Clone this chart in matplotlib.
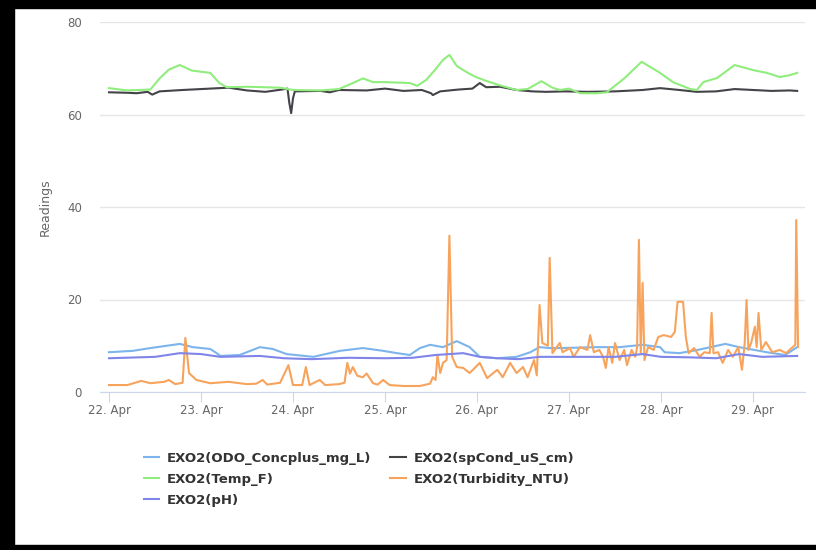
import matplotlib
matplotlib.use('Agg')
from matplotlib import pyplot as plt
from matplotlib.patches import Rectangle

# x values are days of April (22.0 = 22 Apr 00:00)
tick_days = [22, 23, 24, 25, 26, 27, 28, 29]
tick_labels = ['22. Apr', '23. Apr', '24. Apr', '25. Apr', '26. Apr', '27. Apr', '28. Apr', '29. Apr']

odo_t = [22.0, 22.26, 22.45, 22.77, 22.91, 23.1, 23.17, 23.21, 23.42, 23.64, 23.78, 23.93, 24.22,
         24.51, 24.76, 24.98, 25.13, 25.27, 25.38, 25.49, 25.63, 25.78, 25.92, 26.03, 26.22, 26.43,
         26.58, 26.68, 26.79, 26.9, 27.12, 27.3, 27.55, 27.8, 27.99, 28.04, 28.2, 28.4, 28.7, 28.85,
         29.15, 29.35, 29.48]
odo_v = [8.6, 8.9, 9.5, 10.4, 9.7, 9.3, 8.4, 7.8, 8.0, 9.7, 9.3, 8.2, 7.6,
         8.9, 9.5, 8.9, 8.4, 8.0, 9.5, 10.2, 9.7, 11.0, 9.7, 7.6, 7.3, 7.6,
         8.6, 9.7, 9.5, 9.5, 9.6, 9.7, 9.7, 10.2, 9.7, 8.6, 8.4, 9.1, 10.4, 9.7,
         8.6, 8.0, 9.7]

cond_t = [22.0, 22.2, 22.3, 22.42, 22.47, 22.55, 22.8, 23.0, 23.1, 23.3, 23.5, 23.7, 23.88, 23.94,
          23.96, 23.98, 24.0, 24.02, 24.3, 24.4, 24.5, 24.8, 25.0, 25.2, 25.4, 25.5, 25.52, 25.6,
          25.8, 25.95, 26.03, 26.1, 26.25, 26.43, 26.6, 26.75, 26.95, 27.2, 27.5, 27.8, 27.99, 28.2,
          28.39, 28.6, 28.8, 29.0, 29.2, 29.4, 29.48]
cond_v = [64.8, 64.7, 64.6, 64.9, 64.3, 65.0, 65.3, 65.5, 65.6, 65.8, 65.2, 64.9, 65.4, 65.6,
          62.5, 60.3, 63.5, 65.0, 65.1, 64.8, 65.3, 65.2, 65.6, 65.1, 65.3, 64.6, 64.2, 65.0,
          65.4, 65.6, 66.8, 65.9, 66.0, 65.3, 65.0, 64.9, 65.0, 64.9, 65.0, 65.3, 65.7, 65.3,
          64.9, 65.0, 65.5, 65.3, 65.1, 65.2, 65.1]

temp_t = [22.0, 22.2, 22.45, 22.55, 22.65, 22.77, 22.9, 23.1, 23.2, 23.28, 23.5, 23.86, 24.0, 24.3,
          24.5, 24.65, 24.76, 24.87, 25.0, 25.27, 25.35, 25.45, 25.55, 25.63, 25.70, 25.78, 25.85,
          25.92, 26.0, 26.11, 26.25, 26.43, 26.55, 26.70, 26.82, 26.9, 27.0, 27.12, 27.3, 27.41,
          27.6, 27.79, 27.99, 28.13, 28.32, 28.39, 28.46, 28.61, 28.80, 29.0, 29.15, 29.29, 29.40, 29.48]
temp_v = [65.7, 65.2, 65.4, 67.8, 69.7, 70.7, 69.5, 69.0, 66.8, 65.9, 66.0, 65.8, 65.3, 65.2,
          65.5, 66.8, 67.8, 67.0, 67.0, 66.8, 66.2, 67.5, 69.8, 71.8, 72.9, 70.5, 69.6,
          68.8, 68.0, 67.2, 66.3, 65.3, 65.5, 67.2, 65.8, 65.3, 65.6, 64.6, 64.6, 64.8,
          67.8, 71.4, 69.0, 67.0, 65.5, 65.3, 67.0, 67.9, 70.7, 69.6, 69.0, 68.1, 68.5, 69.0]

turb_t = [22.0, 22.2, 22.35, 22.45, 22.6, 22.65, 22.72, 22.80, 22.83, 22.87, 22.95, 23.1, 23.3, 23.5,
          23.6, 23.67, 23.72, 23.86, 23.95, 24.0, 24.1, 24.14, 24.18, 24.29, 24.35, 24.5, 24.56,
          24.59, 24.62, 24.65, 24.70, 24.76, 24.8, 24.87, 24.92, 24.98, 25.05, 25.2, 25.38, 25.49,
          25.52, 25.55, 25.57, 25.60, 25.63, 25.67, 25.70, 25.73, 25.78, 25.85, 25.92, 26.03, 26.11,
          26.22, 26.28, 26.36, 26.43, 26.50, 26.55, 26.62, 26.65, 26.68, 26.71, 26.77, 26.79, 26.82,
          26.90, 26.93, 27.01, 27.05, 27.12, 27.2, 27.23, 27.27, 27.33, 27.37, 27.40, 27.43, 27.47,
          27.50, 27.55, 27.60, 27.63, 27.68, 27.72, 27.74, 27.76, 27.78, 27.80, 27.82, 27.86, 27.92,
          27.97, 28.03, 28.11, 28.15, 28.18, 28.24, 28.27, 28.30, 28.36, 28.42, 28.47, 28.53, 28.55,
          28.57, 28.62, 28.67, 28.73, 28.78, 28.84, 28.88, 28.91, 28.93, 28.95, 28.98, 29.02, 29.04,
          29.06, 29.09, 29.14, 29.21, 29.29, 29.36, 29.42, 29.46, 29.47, 29.49]
turb_v = [1.5, 1.5, 2.4, 1.9, 2.2, 2.6, 1.7, 2.0, 11.7, 4.1, 2.6, 1.9, 2.2, 1.7,
          1.8, 2.6, 1.6, 2.0, 5.8, 1.5, 1.5, 5.4, 1.5, 2.6, 1.5, 1.7, 2.0,
          6.3, 4.0, 5.4, 3.5, 3.2, 4.0, 1.9, 1.6, 2.6, 1.5, 1.3, 1.3, 1.8,
          3.2, 2.6, 8.0, 4.1, 6.3, 6.9, 33.8, 7.6, 5.4, 5.2, 4.1, 6.3, 3.0,
          4.8, 3.2, 6.3, 4.1, 5.4, 3.2, 6.9, 3.6, 18.8, 10.6, 10.0, 29.0, 8.4,
          10.6, 8.6, 9.5, 7.6, 9.7, 9.1, 12.3, 8.6, 9.1, 7.6, 5.2, 9.7, 6.3,
          10.6, 6.9, 9.1, 5.8, 9.1, 7.6, 9.5, 32.9, 8.4, 23.6, 6.9, 9.7, 9.1,
          11.9, 12.3, 11.9, 13.0, 19.5, 19.5, 11.9, 8.4, 9.5, 7.6, 8.6, 8.4, 17.1,
          8.4, 8.6, 6.3, 9.1, 7.6, 9.7, 4.8, 10.6, 19.9, 9.1, 10.6, 14.1, 9.7,
          17.1, 9.1, 10.8, 8.6, 9.1, 8.4, 9.5, 10.2, 37.2, 9.7]

ph_t = [22.0, 22.5, 22.77, 23.0, 23.21, 23.64, 23.9, 24.2, 24.6, 25.0, 25.3, 25.55, 25.85, 26.03,
        26.22, 26.45, 26.68, 27.0, 27.5, 27.8, 28.0, 28.3, 28.6, 28.85, 29.1, 29.48]
ph_v = [7.3, 7.6, 8.4, 8.2, 7.6, 7.8, 7.3, 7.1, 7.4, 7.3, 7.4, 8.0, 8.4, 7.6,
        7.3, 7.1, 7.6, 7.6, 7.6, 8.2, 7.6, 7.5, 7.3, 8.2, 7.6, 7.8]

series = [
    ('EXO2(ODO_Concplus_mg_L)', odo_t, odo_v, '#7cb5ec'),
    ('EXO2(spCond_uS_cm)', cond_t, cond_v, '#434348'),
    ('EXO2(Temp_F)', temp_t, temp_v, '#90ed7d'),
    ('EXO2(Turbidity_NTU)', turb_t, turb_v, '#f7a35c'),
    ('EXO2(pH)', ph_t, ph_v, '#8085e9'),
]

W, H = 816, 550
fig = plt.figure(figsize=(W / 100, H / 100), dpi=100)
ax = fig.add_axes([100 / W, 1 - 392 / H, 705 / W, 370 / H])

lines = {}
for name, t, v, c in series:
    lines[name], = ax.plot(t, v, color=c, lw=1.5, label=name)

ax.set_xlim(22 - 9 / 92, 22 + 696 / 92)
ax.set_ylim(0, 80)
ax.set_yticks([0, 20, 40, 60, 80])
ax.set_xticks(tick_days)
ax.set_xticklabels(tick_labels)
ax.yaxis.grid(True, color='#e6e6e6', lw=1)
ax.set_axisbelow(True)
for s in ['top', 'right', 'left']:
    ax.spines[s].set_visible(False)
ax.spines['bottom'].set_color('#ccd6eb')
ax.tick_params(axis='x', direction='out', length=7, color='#ccd6eb', labelcolor='#666666',
               labelsize=8.5, pad=1.5)
ax.tick_params(axis='y', length=0, labelcolor='#666666', labelsize=8.5, pad=13)
fig.text(45 / W, 1 - 207 / H, 'Readings', rotation=90, ha='center', va='center',
         color='#666666', fontsize=9)

order = ['EXO2(ODO_Concplus_mg_L)', 'EXO2(Temp_F)', 'EXO2(pH)',
         'EXO2(spCond_uS_cm)', 'EXO2(Turbidity_NTU)']
leg = fig.legend([lines[n] for n in order], order, loc='upper left', ncol=2,
                 bbox_to_anchor=(137 / W, 1 - 445 / H), frameon=False, borderpad=0,
                 handlelength=1.2, handletextpad=0.55, columnspacing=1.45, labelspacing=0.62,
                 prop={'weight': 'bold', 'size': 9.5})
for txt in leg.get_texts():
    txt.set_color('#333333')

# black frame of the screenshot
for x, y, w, h in [(0, 0, 14, H), (0, 0, W, 8), (0, 545, W, 5)]:
    fig.add_artist(Rectangle((x / W, 1 - (y + h) / H), w / W, h / H, transform=fig.transFigure,
                             color='black', zorder=10))

fig.savefig('out.png', dpi=100)
